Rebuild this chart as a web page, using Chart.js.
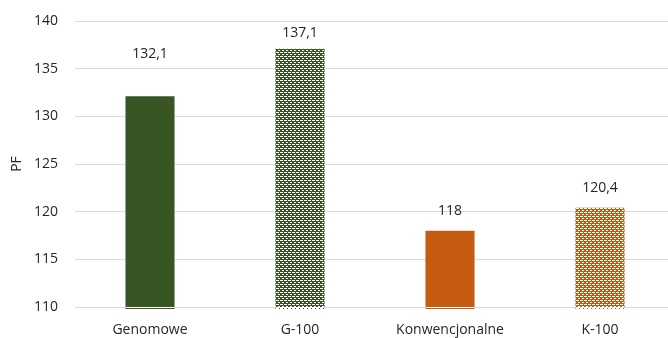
<!DOCTYPE html>
<html>
<head>
<meta charset="utf-8">
<script src="https://cdn.jsdelivr.net/npm/chart.js@4/dist/chart.umd.min.js"></script>
<style>
  html, body { margin: 0; padding: 0; background: #fff; overflow: hidden; }
  #wrap { width: 676px; height: 338px; }
</style>
</head>
<body>
<div id="wrap"><canvas id="pf-chart"></canvas></div>
<script>
  // values
  const CATEGORIES = ["Genomowe", "G-100", "Konwencjonalne", "K-100"];
  const VALUES = [132.1, 137.1, 118, 120.4];
  const VALUE_LABELS = ["132,1", "137,1", "118", "120,4"];
  const Y_TICKS = [110, 115, 120, 125, 130, 135, 140];

  const GREEN = "#375623";
  const ORANGE = "#C55A11";
  const LABEL_OFFSETS = [42, 16, 20, 20];
  const FONT = "'Open Sans', sans-serif";

  function dotted(color) {
    const c = document.createElement("canvas");
    c.width = 4; c.height = 4;
    const g = c.getContext("2d");
    g.fillStyle = color;
    g.fillRect(0, 0, 4, 4);
    g.fillStyle = "#ffffff";
    g.fillRect(0, 0, 3, 1);
    g.fillRect(2, 2, 2, 1);
    return g.createPattern(c, "repeat");
  }

  const fills = [GREEN, dotted(GREEN), ORANGE, dotted(ORANGE)];

  const valueLabels = {
    id: "valueLabels",
    afterDatasetsDraw(chart) {
      const ctx = chart.ctx;
      const meta = chart.getDatasetMeta(0);
      const yScale = chart.scales.y;
      ctx.save();
      // thin white line where the bars cross the 110 gridline
      ctx.strokeStyle = "#ffffff";
      ctx.lineWidth = 1;
      const y0 = Math.round(yScale.getPixelForValue(Y_TICKS[0])) + 0.5;
      meta.data.forEach(function (bar) {
        ctx.beginPath();
        ctx.moveTo(bar.x - bar.width / 2, y0);
        ctx.lineTo(bar.x + bar.width / 2, y0);
        ctx.stroke();
      });
      ctx.fillStyle = "#262626";
      ctx.font = "14px " + FONT;
      ctx.textAlign = "center";
      ctx.textBaseline = "middle";
      meta.data.forEach(function (bar, i) {
        ctx.fillText(VALUE_LABELS[i], bar.x, bar.y - LABEL_OFFSETS[i]);
      });
      ctx.restore();
    },
  };

  new Chart(document.getElementById("pf-chart"), {
    type: "bar",
    data: {
      labels: CATEGORIES,
      datasets: [{
        data: VALUES,
        base: 109.8,
        backgroundColor: fills,
        borderWidth: 0,
        barPercentage: 0.327,
        categoryPercentage: 1,
        clip: false,
      }],
    },
    options: {
      responsive: true,
      maintainAspectRatio: false,
      animation: false,
      layout: { padding: { top: 21, right: 1, left: 0, bottom: 0 } },
      plugins: { legend: { display: false }, tooltip: { enabled: false } },
      scales: {
        x: {
          grid: { display: false, drawTicks: false },
          border: { display: false },
          ticks: { color: "#262626", padding: 15, font: { family: FONT, size: 14 } },
          afterFit: function (s) { s.height = 31; },
        },
        y: {
          min: 110,
          max: 140,
          afterBuildTicks: function (s) { s.ticks = Y_TICKS.map(function (v) { return { value: v }; }); },
          grid: { color: "#d9d9d9", drawTicks: false, lineWidth: 1 },
          border: { display: false },
          ticks: { color: "#262626", padding: 17, font: { family: FONT, size: 14 } },
          title: {
            display: true,
            text: "PF",
            color: "#262626",
            padding: { top: 9, bottom: 0 },
            font: { family: FONT, size: 14 },
          },
          afterFit: function (s) {
            s.width = 75;
            s.paddingTop = 0;
            s.paddingBottom = 0;
          },
        },
      },
    },
    plugins: [valueLabels],
  });
</script>
</body>
</html>
